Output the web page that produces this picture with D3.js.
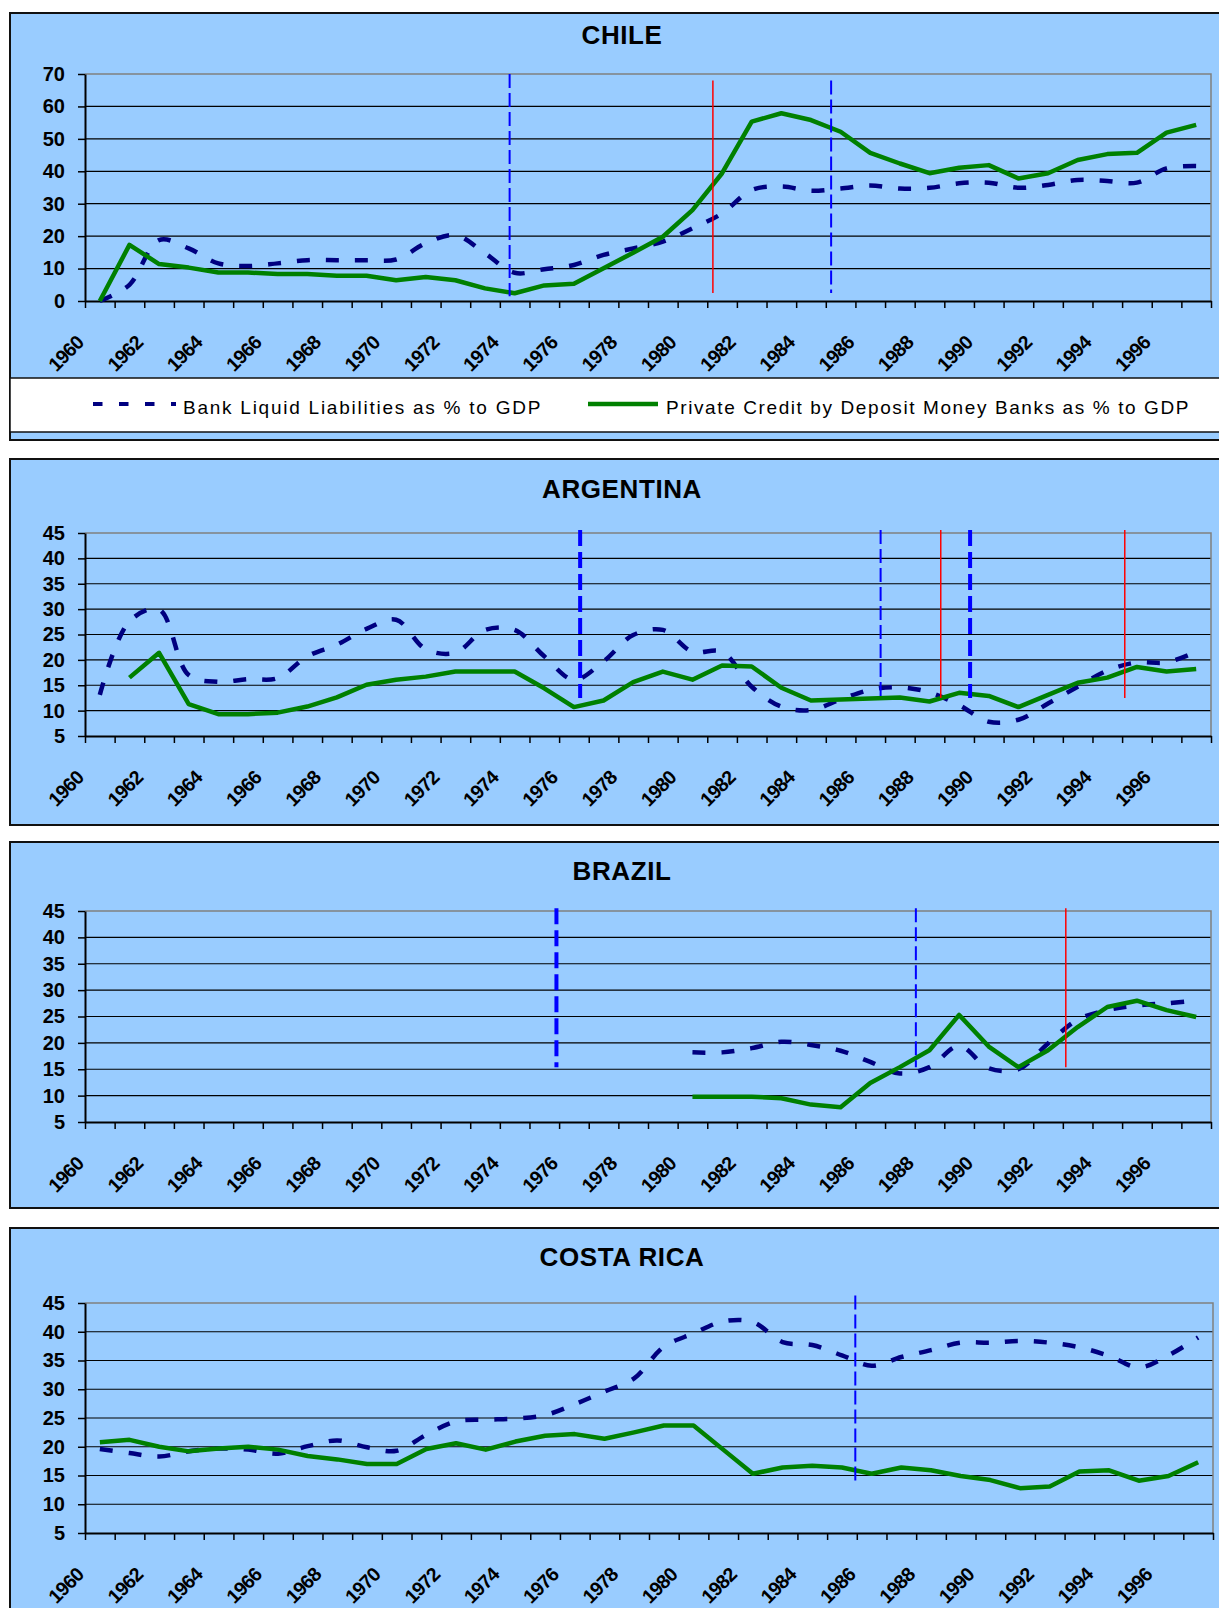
<!DOCTYPE html>
<html>
<head>
<meta charset="utf-8">
<script src="https://cdn.jsdelivr.net/npm/d3@7"></script>
<style>
  body { margin: 0; background: #fff; }
  svg { display: block; }
  text { font-family: "Liberation Sans", Arial, sans-serif; }
</style>
</head>
<body>
<div id="chart"></div>
<script>
// categories
const years = [1960, 1961, 1962, 1963, 1964, 1965, 1966, 1967, 1968, 1969,
               1970, 1971, 1972, 1973, 1974, 1975, 1976, 1977, 1978, 1979,
               1980, 1981, 1982, 1983, 1984, 1985, 1986, 1987, 1988, 1989,
               1990, 1991, 1992, 1993, 1994, 1995, 1996, 1997];
const tickYears = [1960, 1962, 1964, 1966, 1968, 1970, 1972, 1974, 1976, 1978,
                   1980, 1982, 1984, 1986, 1988, 1990, 1992, 1994, 1996];
const chileTicks = [0, 10, 20, 30, 40, 50, 60, 70];
const otherTicks = [5, 10, 15, 20, 25, 30, 35, 40, 45];

const seriesNames = ["Bank Liquid Liabilities as % to GDP",
                     "Private Credit by Deposit Money Banks as % to GDP"];

// Bank liquid liabilities (% GDP)
const chileLiquid = [0, 5, 18.8, 16.2, 11.6, 10.8, 11.6, 12.6, 12.6, 12.6,
                     12.8, 17.8, 20.3, 14.7, 8.7, 9.8, 11.1, 14.2, 16.2, 18.3,
                     22.4, 27, 34.2, 35.3, 34, 34.7, 35.6, 34.7, 34.9, 36.3,
                     36.5, 34.9, 35.8, 37.3, 37, 36.5, 40.9, 41.6];
const argentinaLiquid = [13.1, 27.6, 29.9, 17, 15.7, 16.2, 16.4, 20.7, 23, 26.1,
                         27.9, 22.1, 21.4, 25.9, 25.9, 20.7, 16.1, 19.7, 24.9, 25.9,
                         21.6, 21.6, 14.7, 10.8, 10.1, 12.2, 14.1, 14.6, 13.6, 11.1,
                         7.8, 8.2, 11.4, 14.7, 17.9, 19.5, 19.5, 21.6];
const brazilLiquid = [null, null, null, null, null, null, null, null, null, null,
                      null, null, null, null, null, null, null, null, null, null,
                      18.2, 18.2, 19, 20.2, 19.6, 18.5, 16.4, 14.2, 15.4, 19.4,
                      15.2, 15, 19.9, 24.4, 26.2, 27.1, 27.5, 28];
const costaRicaLiquid = [19.6, 18.9, 18.3, 19.2, 19.7, 19.5, 18.8, 20.1, 21.1, 19.9,
                         19.3, 22.1, 24.4, 24.7, 24.9, 25.5, 27.4, 29.6, 31.9, 37.4,
                         39.7, 41.8, 41.7, 38.2, 37.7, 35.9, 34.1, 35.6, 36.8, 38.1,
                         38.1, 38.4, 38.1, 37.3, 35.8, 33.8, 35.9, 39];

// Private credit by deposit money banks (% GDP)
const chileCredit = [0, 17.3, 11.4, 10.3, 8.8, 8.8, 8.3, 8.3, 7.8, 7.8,
                     6.4, 7.4, 6.4, 3.9, 2.4, 4.8, 5.3, 10.1, 14.9, 19.8,
                     28, 39.4, 55.3, 57.9, 55.8, 52.2, 45.7, 42.4, 39.4, 41.1,
                     41.9, 37.8, 39.4, 43.5, 45.3, 45.7, 51.9, 54.3];
const argentinaCredit = [null, 16.5, 21.4, 11.3, 9.3, 9.3, 9.6, 10.8, 12.6, 15.1,
                         16.1, 16.7, 17.7, 17.7, 17.7, 14.4, 10.7, 12, 15.6, 17.7,
                         16.1, 18.9, 18.7, 14.5, 12, 12.2, 12.4, 12.6, 11.8, 13.5,
                         12.9, 10.7, 13.1, 15.5, 16.5, 18.6, 17.7, 18.2];
const brazilCredit = [null, null, null, null, null, null, null, null, null, null,
                      null, null, null, null, null, null, null, null, null, null,
                      9.8, 9.8, 9.8, 9.5, 8.3, 7.8, 12.4, 15.4, 18.6, 25.3,
                      19.3, 15.4, 18.6, 23, 26.8, 28, 26.2, 24.9];
const costaRicaCredit = [20.8, 21.2, 20, 19.2, 19.7, 20, 19.5, 18.4, 17.8, 17,
                         17, 19.6, 20.6, 19.5, 20.9, 21.9, 22.2, 21.4, 22.5, 23.7,
                         23.7, 19.5, 15.3, 16.4, 16.7, 16.4, 15.3, 16.4, 15.9, 14.9,
                         14.2, 12.8, 13.1, 15.7, 15.9, 14.1, 14.9, 17.3];

// vertical event markers: year position, value range, kind
const chileMarkers = [
  { year: 1973.83, from: 1.5, to: 70, kind: "blueThin" },
  { year: 1980.69, from: 2.5, to: 68, kind: "red" },
  { year: 1984.68, from: 2.5, to: 68, kind: "blueThin" }
];
const argentinaMarkers = [
  { year: 1976.21, from: 12.5, to: 45.6, kind: "blueThick" },
  { year: 1986.35, from: 12.5, to: 45.6, kind: "blueThin" },
  { year: 1988.38, from: 12.5, to: 45.6, kind: "red" },
  { year: 1989.37, from: 12.5, to: 45.6, kind: "blueThick" },
  { year: 1994.59, from: 12.5, to: 45.6, kind: "red" }
];
const brazilMarkers = [
  { year: 1975.41, from: 15.4, to: 45.5, kind: "blueThick" },
  { year: 1987.54, from: 15.4, to: 45.5, kind: "blueThin" },
  { year: 1992.60, from: 15.4, to: 45.5, kind: "red" }
];
const costaRicaMarkers = [
  { year: 1985.45, from: 13.9, to: 46.3, kind: "blueThin" }
];

const markerStyle = {
  red: { stroke: "#ff0000", width: 1.5, dash: null },
  blueThin: { stroke: "#0000ff", width: 2, dash: "14,5" },
  blueThick: { stroke: "#0000ff", width: 4, dash: "16,6" }
};

const panels = [
  { title: "CHILE", top: 13, bottom: 440, titleY: 44,
    plot: { top: 74, bottom: 301, left: 85, right: 1211 },
    yDomain: [0, 70], ticks: chileTicks,
    liquid: chileLiquid, credit: chileCredit, markers: chileMarkers, legend: true },
  { title: "ARGENTINA", top: 459, bottom: 825, titleY: 498,
    plot: { top: 533, bottom: 736, left: 85, right: 1211 },
    yDomain: [5, 45], ticks: otherTicks,
    liquid: argentinaLiquid, credit: argentinaCredit, markers: argentinaMarkers },
  { title: "BRAZIL", top: 842, bottom: 1208, titleY: 880,
    plot: { top: 911, bottom: 1122, left: 85, right: 1211 },
    yDomain: [5, 45], ticks: otherTicks,
    liquid: brazilLiquid, credit: brazilCredit, markers: brazilMarkers },
  { title: "COSTA RICA", top: 1228, bottom: 1640, titleY: 1266,
    plot: { top: 1303, bottom: 1533, left: 85, right: 1213 },
    yDomain: [5, 45], ticks: otherTicks,
    liquid: costaRicaLiquid, credit: costaRicaCredit, markers: costaRicaMarkers }
];

const svg = d3.select("#chart").append("svg")
    .attr("width", 1219)
    .attr("height", 1608);

function drawPanel(p) {
    const g = svg.append("g");

    g.append("rect")
        .attr("x", 10).attr("y", p.top)
        .attr("width", 1240).attr("height", p.bottom - p.top)
        .attr("fill", "#99ccff")
        .attr("stroke", "#111").attr("stroke-width", 2);

    g.append("text")
        .attr("x", 622).attr("y", p.titleY)
        .attr("text-anchor", "middle")
        .style("font-size", "26px")
        .style("font-weight", "bold")
        .style("letter-spacing", "0.6px")
        .text(p.title);

    // continuous year scale: category centres fall on whole years
    const x = d3.scaleLinear()
        .domain([years[0] - 0.5, years[years.length - 1] + 0.5])
        .range([p.plot.left, p.plot.right]);
    const y = d3.scaleLinear()
        .domain(p.yDomain)
        .range([p.plot.bottom, p.plot.top]);

    // gridlines
    g.append("g").selectAll("line")
        .data(p.ticks.slice(1, -1))
        .join("line")
        .attr("x1", p.plot.left).attr("x2", p.plot.right)
        .attr("y1", d => y(d)).attr("y2", d => y(d))
        .attr("stroke", "#000").attr("stroke-width", 1.2);

    // plot area frame (top/right in grey)
    g.append("path")
        .attr("d", `M${p.plot.left},${y(p.yDomain[1])}H${p.plot.right}V${y(p.yDomain[0])}`)
        .attr("fill", "none")
        .attr("stroke", "#808080").attr("stroke-width", 1.5);

    const yAxis = g.append("g")
        .attr("transform", `translate(${p.plot.left},0)`)
        .call(d3.axisLeft(y).tickValues(p.ticks).tickSize(7).tickSizeOuter(0).tickPadding(13));
    yAxis.select(".domain").attr("stroke", "#000").attr("stroke-width", 2);
    yAxis.selectAll(".tick line").attr("stroke", "#000").attr("stroke-width", 1.5);
    yAxis.selectAll("text")
        .attr("fill", "#000")
        .style("font-family", "Liberation Sans, Arial, sans-serif")
        .style("font-size", "20px")
        .style("font-weight", "bold");

    // x axis: tick marks between categories
    const boundaries = years.concat([years[years.length - 1] + 1]).map(d => d - 0.5);
    const xAxis = g.append("g")
        .attr("transform", `translate(0,${p.plot.bottom})`)
        .call(d3.axisBottom(x).tickValues(boundaries).tickSize(7).tickSizeOuter(0).tickFormat(""));
    xAxis.select(".domain").attr("stroke", "#000").attr("stroke-width", 2);
    xAxis.selectAll(".tick line").attr("stroke", "#000").attr("stroke-width", 1.5);

    g.append("g").selectAll("text")
        .data(tickYears)
        .join("text")
        .attr("transform", d => `translate(${x(d) - 15},${p.plot.bottom + 43}) rotate(-45)`)
        .attr("text-anchor", "end")
        .style("font-size", "19.5px")
        .style("font-weight", "bold")
        .style("letter-spacing", "-0.8px")
        .text(d => d);

    const rows = years.map((yr, i) => ({ year: yr, liquid: p.liquid[i], credit: p.credit[i] }));

    const liquidLine = d3.line()
        .defined(d => d.liquid != null)
        .x(d => x(d.year)).y(d => y(d.liquid))
        .curve(d3.curveCatmullRom.alpha(0.5));
    const creditLine = d3.line()
        .defined(d => d.credit != null)
        .x(d => x(d.year)).y(d => y(d.credit));

    g.append("path")
        .attr("d", liquidLine(rows))
        .attr("fill", "none")
        .attr("stroke", "#000080").attr("stroke-width", 4.5)
        .attr("stroke-dasharray", "13,16");

    g.append("path")
        .attr("d", creditLine(rows))
        .attr("fill", "none")
        .attr("stroke", "#008000").attr("stroke-width", 4.5)
        .attr("stroke-linejoin", "round");

    g.append("g").selectAll("line")
        .data(p.markers)
        .join("line")
        .attr("x1", d => x(d.year)).attr("x2", d => x(d.year))
        .attr("y1", d => y(d.to)).attr("y2", d => y(d.from))
        .attr("stroke", d => markerStyle[d.kind].stroke)
        .attr("stroke-width", d => markerStyle[d.kind].width)
        .attr("stroke-dasharray", d => markerStyle[d.kind].dash);

    if (p.legend) drawLegend(g);
}

function drawLegend(g) {
    g.append("rect")
        .attr("x", 10).attr("y", 378)
        .attr("width", 1240).attr("height", 54)
        .attr("fill", "#fff")
        .attr("stroke", "#111").attr("stroke-width", 1.5);

    g.append("line")
        .attr("x1", 93).attr("x2", 176).attr("y1", 404).attr("y2", 404)
        .attr("stroke", "#000080").attr("stroke-width", 4)
        .attr("stroke-dasharray", "9.5,16.5");
    g.append("text")
        .attr("x", 183).attr("y", 414)
        .style("font-size", "19px")
        .style("letter-spacing", "1.75px")
        .text(seriesNames[0]);

    g.append("line")
        .attr("x1", 588).attr("x2", 658).attr("y1", 404).attr("y2", 404)
        .attr("stroke", "#008000").attr("stroke-width", 4.5);
    g.append("text")
        .attr("x", 666).attr("y", 414)
        .style("font-size", "19px")
        .style("letter-spacing", "1.6px")
        .text(seriesNames[1]);
}

panels.forEach(drawPanel);
</script>
</body>
</html>
